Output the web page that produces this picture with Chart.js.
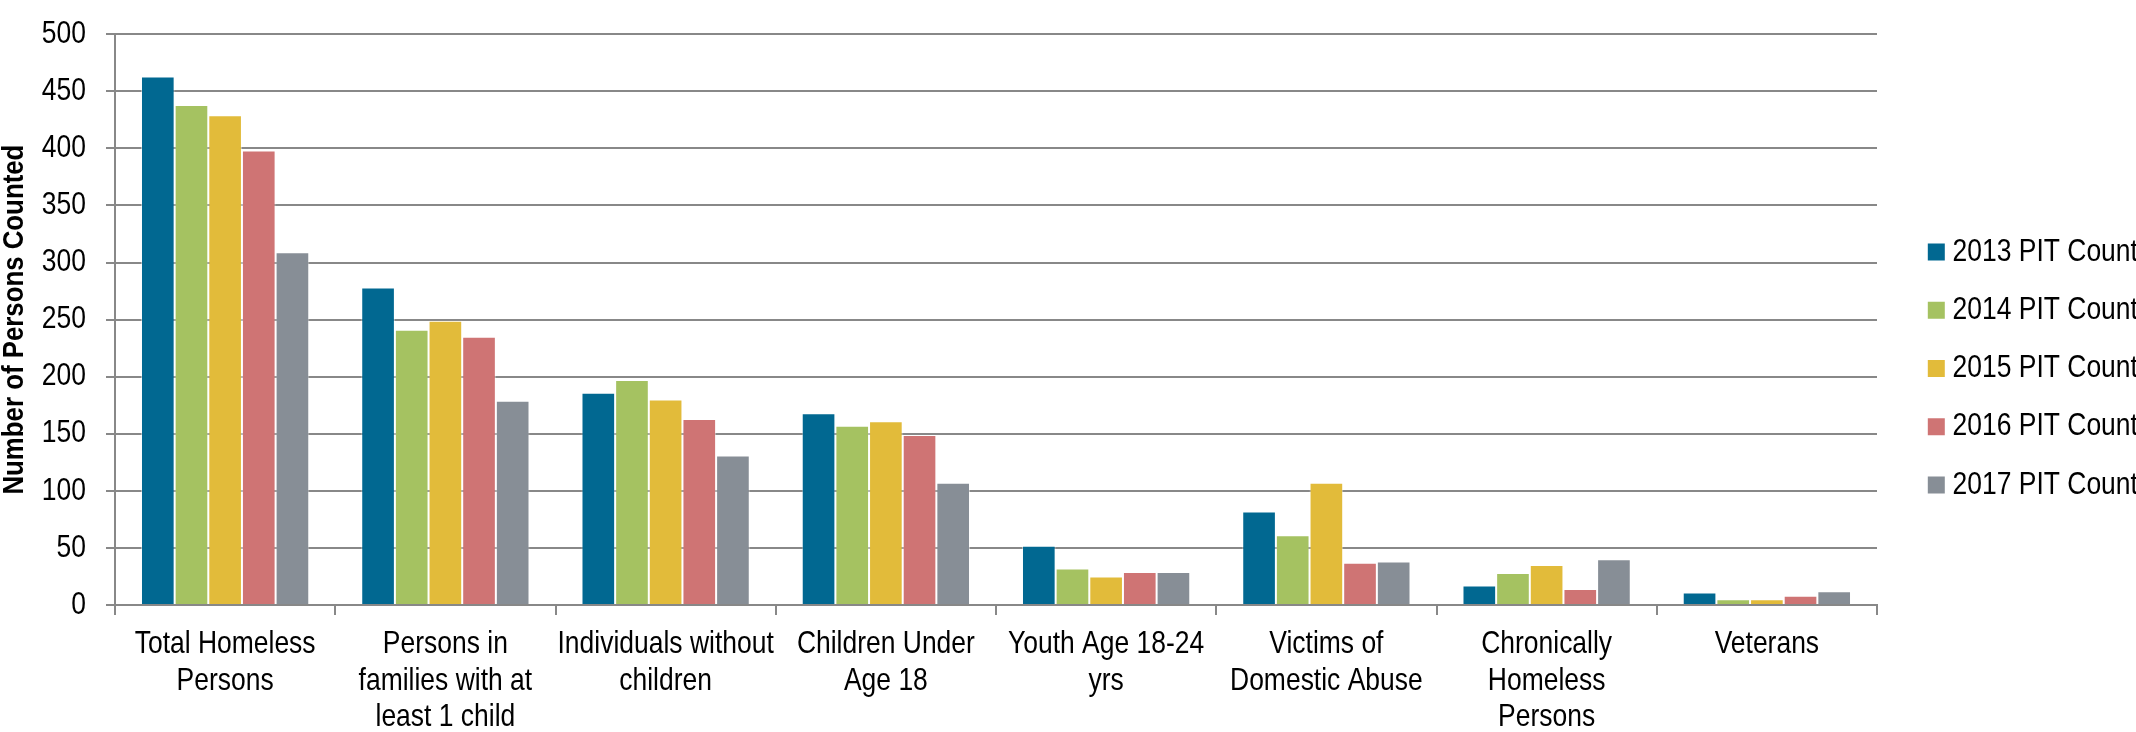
<!DOCTYPE html>
<html>
<head>
<meta charset="utf-8">
<script src="https://cdn.jsdelivr.net/npm/chart.js@4/dist/chart.umd.min.js"></script>
<style>
  html, body { margin: 0; padding: 0; background: #ffffff; }
  #wrap { width: 2136px; height: 732px; }
</style>
</head>
<body>
<div id="wrap"><canvas id="pit" width="2136" height="732"></canvas></div>
<script>
// Homeless point-in-time counts by subpopulation, 2013-2017
const categories = [
  ["Total Homeless", "Persons"],
  ["Persons in", "families with at", "least 1 child"],
  ["Individuals without", "children"],
  ["Children Under", "Age 18"],
  ["Youth Age 18-24", "yrs"],
  ["Victims of", "Domestic Abuse"],
  ["Chronically", "Homeless", "Persons"],
  ["Veterans"]
];
const seriesNames = ["2013 PIT Count", "2014 PIT Count", "2015 PIT Count", "2016 PIT Count", "2017 PIT Count"];
const count2013 = [463, 278, 186, 168, 52, 82, 17, 11];
const count2014 = [438, 241, 197, 157, 32, 61, 28, 5];
const count2015 = [429, 249, 180, 161, 25, 107, 35, 5];
const count2016 = [398, 235, 163, 149, 29, 37, 14, 8];
const count2017 = [309, 179, 131, 107, 29, 38, 40, 12];
const yTicks = [0, 50, 100, 150, 200, 250, 300, 350, 400, 450, 500];

const seriesColors = ["#016891", "#A5C261", "#E2BB3A", "#CF7474", "#878E96"];
const seriesValues = [count2013, count2014, count2015, count2016, count2017];

const FONT = "'Liberation Sans', Arial, sans-serif";
const GRID = "#888888";
const SQUEEZE_REGULAR = 0.84; // condensing of regular-weight lettering
const SQUEEZE_BOLD = 0.89;    // condensing of the bold axis title
const LEGEND_WIDTH = 259;     // space reserved on the right for the legend
const LEGEND_INSET = 32;      // extra gap between plot edge and legend swatches
const LEGEND_DROP = 2.5;      // small downward nudge of the legend column

// Condensed lettering: squeeze each string along its own baseline
const canvas = document.getElementById("pit");
const ctx2d = canvas.getContext("2d");
const baseFillText = ctx2d.fillText.bind(ctx2d);
const baseMeasureText = ctx2d.measureText.bind(ctx2d);
function squeezeFor(c) { return /bold|700/.test(c.font) ? SQUEEZE_BOLD : SQUEEZE_REGULAR; }
ctx2d.fillText = function (text, x, y, maxWidth) {
  const k = squeezeFor(this);
  this.save();
  this.translate(x, y);
  this.scale(k, 1);
  if (maxWidth === undefined) baseFillText(text, 0, 0);
  else baseFillText(text, 0, 0, maxWidth / k);
  this.restore();
};
ctx2d.measureText = function (text) {
  const t = baseMeasureText(text);
  const k = squeezeFor(this);
  return {
    width: t.width * k,
    actualBoundingBoxLeft: t.actualBoundingBoxLeft * k,
    actualBoundingBoxRight: t.actualBoundingBoxRight * k,
    actualBoundingBoxAscent: t.actualBoundingBoxAscent,
    actualBoundingBoxDescent: t.actualBoundingBoxDescent,
    fontBoundingBoxAscent: t.fontBoundingBoxAscent,
    fontBoundingBoxDescent: t.fontBoundingBoxDescent
  };
};

// Give the legend a fixed width and set its column clear of the plot
const legendSpacing = {
  id: "legendSpacing",
  beforeLayout(chart) {
    const lg = chart.legend;
    if (lg && !lg._fixedFit) {
      const origFit = lg.fit;
      lg.fit = function () { origFit.call(this); this.width = LEGEND_WIDTH; };
      lg._fixedFit = true;
    }
  },
  afterLayout(chart) {
    const lg = chart.legend;
    if (!lg) return;
    lg.left += LEGEND_INSET;
    lg.top += LEGEND_DROP;
    lg.bottom += LEGEND_DROP;
  }
};

new Chart(canvas, {
  type: "bar",
  data: {
    labels: categories,
    datasets: seriesNames.map((name, i) => ({
      label: name,
      data: seriesValues[i],
      backgroundColor: seriesColors[i],
      borderColor: "rgba(255,255,255,0.45)",
      borderWidth: 1,
      categoryPercentage: 0.764,
      barPercentage: 1.0
    }))
  },
  options: {
    responsive: false,
    devicePixelRatio: 1,
    animation: false,
    layout: { padding: 0 },
    plugins: {
      tooltip: { enabled: false },
      legend: {
        position: "right",
        align: "center",
        labels: {
          usePointStyle: true,
          pointStyle: "rect",
          boxWidth: 1,
          boxHeight: 17,
          padding: 26.8,
          color: "#000000",
          font: { family: FONT, size: 31.5 },
          generateLabels(chart) {
            return Chart.defaults.plugins.legend.labels.generateLabels(chart).map(item => {
              item.lineWidth = 0;
              item.strokeStyle = item.fillStyle;
              return item;
            });
          }
        }
      }
    },
    scales: {
      x: {
        offset: true,
        grid: {
          offset: true,
          drawOnChartArea: false,
          drawTicks: true,
          tickLength: 10,
          color: GRID,
          lineWidth: 2
        },
        border: { display: true, color: GRID, width: 2 },
        ticks: {
          color: "#000000",
          padding: 11,
          maxRotation: 0,
          autoSkip: false,
          font: { family: FONT, size: 31.5, lineHeight: 1.165 }
        },
        afterFit(scale) { scale.height = 127; }
      },
      y: {
        min: 0,
        max: 500,
        afterBuildTicks(scale) { scale.ticks = yTicks.map(v => ({ value: v })); },
        grid: {
          color: GRID,
          lineWidth: 2,
          drawTicks: true,
          tickLength: 9
        },
        border: { display: true, color: GRID, width: 2 },
        ticks: {
          color: "#000000",
          padding: 20,
          font: { family: FONT, size: 31.5, lineHeight: 0.9 }
        },
        title: {
          display: true,
          text: "Number of Persons Counted",
          color: "#000000",
          padding: { top: 0.5, bottom: 0 },
          font: { family: FONT, size: 29, weight: "bold", lineHeight: 1.0 }
        },
        afterFit(scale) { scale.width = 115; }
      }
    }
  },
  plugins: [legendSpacing]
});
</script>
</body>
</html>
